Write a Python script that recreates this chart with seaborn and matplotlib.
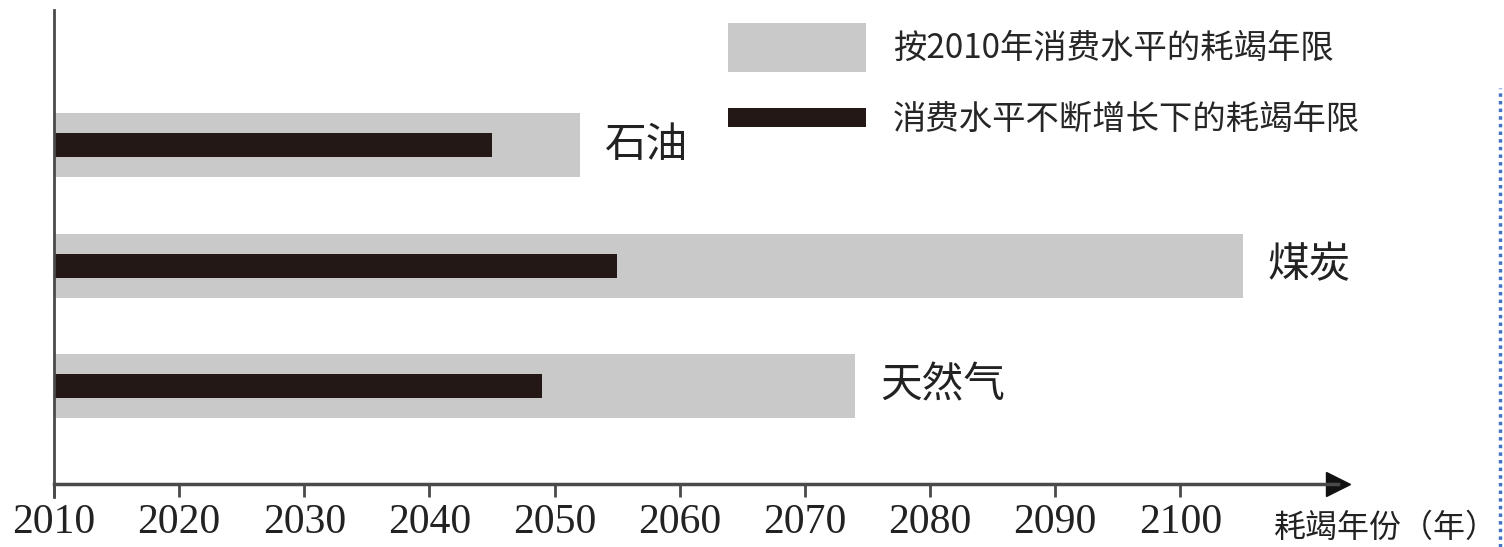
import matplotlib
matplotlib.use("Agg")
import matplotlib.pyplot as plt
import seaborn as sns
import pandas as pd
from matplotlib.patches import Patch, Rectangle
from matplotlib.legend_handler import HandlerPatch
from matplotlib.lines import Line2D

# data
fuels = ["石油", "煤炭", "天然气"]
year_2010_level = [2052, 2105, 2074]   # 按2010年消费水平的耗竭年限
year_growing = [2045, 2055, 2049]      # 消费水平不断增长下的耗竭年限
xticks = list(range(2010, 2101, 10))

label_gray = "按2010年消费水平的耗竭年限"
label_black = "消费水平不断增长下的耗竭年限"
xlabel = "耗竭年份（年）"

gray = "#C8C9C8"
black = "#231815"
axis_col = "#4a4a4a"

df = pd.DataFrame({"fuel": fuels, "base": year_2010_level, "grow": year_growing})

sns.set_style("white")
plt.rcParams["font.family"] = ["Noto Sans CJK SC", "DejaVu Sans"]

fig = plt.figure(figsize=(15.04, 5.47), dpi=100)
ax = fig.add_axes([54 / 1504, 63 / 547, 1284 / 1504, 474 / 547])

sns.barplot(data=df, x="base", y="fuel", orient="h", color=gray, width=0.53,
            saturation=1, linewidth=0, ax=ax)
sns.barplot(data=df, x="grow", y="fuel", orient="h", color=black, width=0.2,
            saturation=1, linewidth=0, ax=ax)

ax.set_xlim(2010, 2112.6)
ax.set_ylim(2.81, -1.12)

# fuel names right of the gray bars
for i, row in df.iterrows():
    ax.annotate(row["fuel"], xy=(row["base"], i), xytext=(18, 0),
                textcoords="offset points", va="center", ha="left",
                fontsize=30, color="#222222")

# axes styling
for s in ["top", "right"]:
    ax.spines[s].set_visible(False)
ax.spines["left"].set_color(axis_col)
ax.spines["bottom"].set_color(axis_col)
ax.spines["left"].set_linewidth(2)
ax.spines["bottom"].set_linewidth(2.5)
ax.spines["left"].set_bounds(2.92, -1.12)
ax.set_yticks([])
ax.set_ylabel("")
ax.set_xlabel("")
ax.set_xticks(xticks)
ax.set_xticklabels([str(t) for t in xticks], family="Liberation Serif",
                   fontsize=30, color="#222222")
ax.tick_params(axis="x", direction="out", length=9, width=2, color=axis_col,
               pad=5, bottom=True)

# arrow head at end of x axis
ax.plot(1, 0, ">", color="#111111", markersize=17, transform=ax.transAxes,
        clip_on=False)

fig.text(1274 / 1504, 1 - 528 / 547, xlabel, fontsize=23, va="center",
         ha="left", color="#222222")

# legend with two different swatch heights
class SwatchHandler(HandlerPatch):
    def __init__(self, frac):
        super().__init__()
        self.frac = frac

    def create_artists(self, legend, orig_handle, xdescent, ydescent, width,
                       height, fontsize, trans):
        h = height * self.frac
        r = Rectangle((-xdescent, -ydescent + (height - h) / 2), width, h,
                      facecolor=orig_handle.get_facecolor(), edgecolor="none",
                      transform=trans)
        return [r]

fs = 24
h_gray = Patch(facecolor=gray)
h_black = Patch(facecolor=black)
ax.legend([h_gray, h_black], [label_gray, label_black],
          handler_map={h_gray: SwatchHandler(1.0), h_black: SwatchHandler(0.4)},
          loc="upper left", bbox_to_anchor=(728 / 1504, 1 - 23 / 547),
          bbox_transform=fig.transFigure, frameon=False, fontsize=fs,
          borderpad=0, borderaxespad=0, handlelength=138 / 33.3,
          handleheight=62 / 33.3, labelspacing=22 / 33.3,
          handletextpad=27 / 33.3)

# blue dotted border line at right edge
fig.add_artist(Line2D([1500 / 1504, 1500 / 1504], [0, 1 - 88 / 547],
                      transform=fig.transFigure, color="#4472C4",
                      linestyle=(0, (1, 1.2)), linewidth=2.5))

fig.savefig("out.png", dpi=100)
